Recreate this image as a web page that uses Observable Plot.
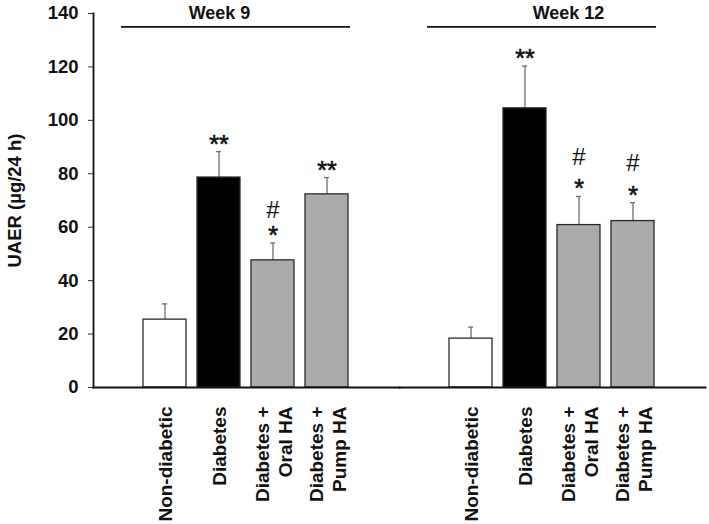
<!DOCTYPE html>
<html><head><meta charset="utf-8">
<script src="https://cdn.jsdelivr.net/npm/d3@7"></script>
<script src="https://cdn.jsdelivr.net/npm/@observablehq/plot@0.6"></script>
<style>body{margin:0;background:#fff}</style>
</head><body><div id="chart"></div>
<script>
const weeks = ["Week 9", "Week 12"];
const groups = ["Non-diabetic", "Diabetes", "Diabetes +\nOral HA", "Diabetes +\nPump HA"];
const week9Means = [25.4, 78.6, 47.6, 72.3];
const week9Errors = [5.9, 9.7, 6.5, 6.3];
const week12Means = [18.3, 104.5, 60.8, 62.3];
const week12Errors = [4.3, 15.8, 10.7, 6.9];
const week9Stars = ["", "**", "*", "**"];
const week12Stars = ["", "**", "*", "*"];
const week9Hashes = ["", "", "#", ""];
const week12Hashes = ["", "", "#", "#"];
const yTicks = [0, 20, 40, 60, 80, 100, 120, 140];
const yLabel = "UAER (µg/24 h)";

const rows = [];
weeks.forEach((w, wi) => groups.forEach((g, gi) => {
  const mean = wi === 0 ? week9Means[gi] : week12Means[gi];
  const err = wi === 0 ? week9Errors[gi] : week12Errors[gi];
  const star = wi === 0 ? week9Stars[gi] : week12Stars[gi];
  const hash = wi === 0 ? week9Hashes[gi] : week12Hashes[gi];
  rows.push({week: w, group: g, mean, top: mean + err, star, hash});
}));
const weekRows = weeks.map(w => ({week: w}));

const font = "'Liberation Sans', Arial, Helvetica, sans-serif";
const chart = Plot.plot({
  width: 709, height: 524,
  marginLeft: 93, marginRight: 4, marginTop: 13, marginBottom: 137,
  style: {fontFamily: font, background: "#fff", color: "#111"},
  fx: {domain: weeks, paddingInner: 0, paddingOuter: 0, axis: null, label: null},
  x: {domain: groups, paddingInner: 0.2, paddingOuter: 0.92, label: null},
  y: {domain: [0, 140], label: null},
  color: {domain: groups, range: ["#ffffff", "#000000", "#ababab", "#ababab"]},
  marks: [
    Plot.axisY({ticks: yTicks, tickSize: 5, tickPadding: 10, fontSize: 18.5, fontWeight: "bold",
      stroke: "#333", label: yLabel, labelAnchor: "center", labelOffset: 86, labelArrow: "none"}),
    Plot.axisX({tickSize: 0, tickRotate: -90, tickPadding: 19, fontSize: 19, fontWeight: "bold",
      lineHeight: 1.2, label: null}),
    Plot.ruleX(rows, {fx: "week", x: "group", y1: "mean", y2: "top", stroke: "#707070", strokeWidth: 1.3}),
    Plot.tickY(rows, {fx: "week", x: "group", y: "top", stroke: "#707070", strokeWidth: 1.3, insetLeft: 19, insetRight: 19}),
    Plot.barY(rows, {fx: "week", x: "group", y: "mean", fill: "group", stroke: "#2a2a2a", strokeWidth: 1.3}),
    Plot.text(rows, {fx: "week", x: "group", y: "top", text: "star", lineAnchor: "middle",
      fontSize: 25, dy: -7, fill: "#111", stroke: "#111", strokeWidth: 0.6}),
    Plot.text(rows.filter(d => d.week === "Week 9"), {fx: "week", x: "group", y: "top", text: "hash",
      lineAnchor: "middle", fontSize: 24, dy: -33, fill: "#111"}),
    Plot.text(rows.filter(d => d.week === "Week 12"), {fx: "week", x: "group", y: "top", text: "hash",
      lineAnchor: "middle", fontSize: 24, dy: -39.5, fill: "#111"}),
    Plot.ruleY([135], {stroke: "#111", strokeWidth: 1.6, insetLeft: 28, insetRight: 49}),
    Plot.text(weekRows.filter(d => d.week === "Week 9"), {fx: "week", y: () => 140, text: "week",
      frameAnchor: "middle", dx: -27, fontSize: 18, fontWeight: "bold", lineAnchor: "middle"}),
    Plot.text(weekRows.filter(d => d.week === "Week 12"), {fx: "week", y: () => 140, text: "week",
      frameAnchor: "middle", dx: 16, fontSize: 18, fontWeight: "bold", lineAnchor: "middle"}),
    Plot.frame({anchor: "bottom", stroke: "#111", strokeWidth: 1.8}),
    Plot.frame({anchor: "left", facetAnchor: "left", stroke: "#111", strokeWidth: 1.8})
  ]
});
document.getElementById("chart").appendChild(chart);
</script>
</body></html>
